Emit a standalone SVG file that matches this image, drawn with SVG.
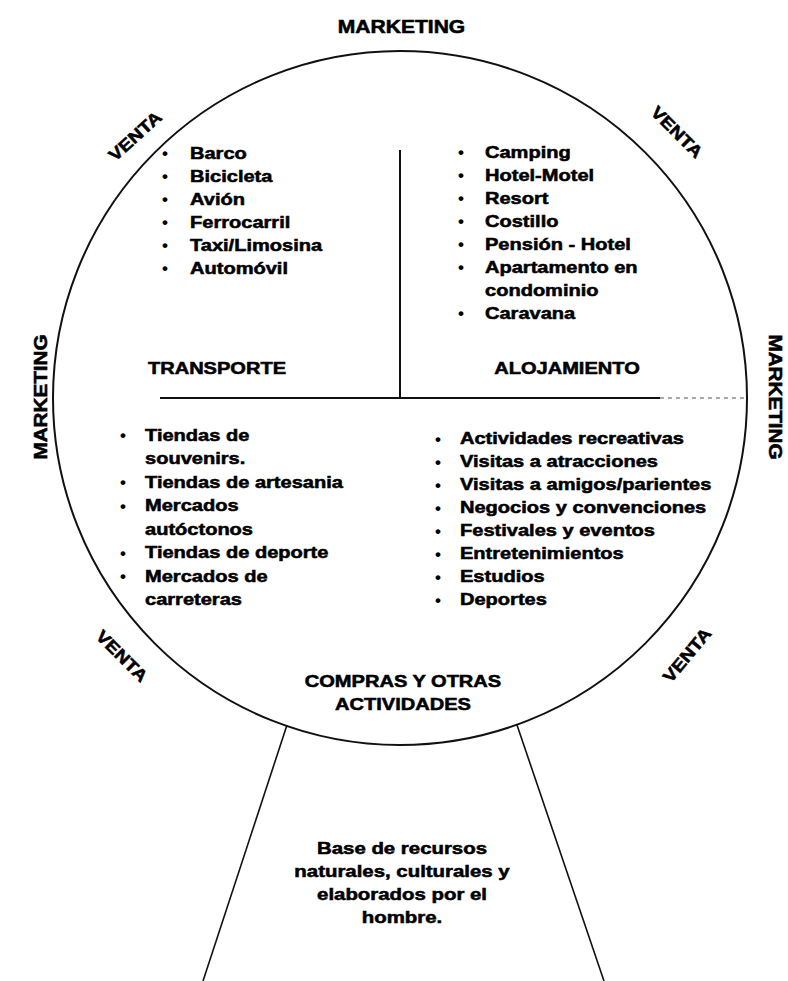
<svg xmlns="http://www.w3.org/2000/svg" width="788" height="981" viewBox="0 0 788 981">
<style>
.t{font-family:"Liberation Sans",Arial,Helvetica,sans-serif;font-weight:bold;font-size:17px;fill:#000;stroke:#000;stroke-width:0.55}
.h{font-size:18px}
.b{font-family:"Liberation Sans",Arial,sans-serif;font-weight:bold;font-size:17px;fill:#000;text-anchor:middle}
.ln{stroke:#111;fill:none;stroke-width:2}
.thin{stroke:#111;fill:none;stroke-width:1.6}
.dash{stroke:#555;fill:none;stroke-width:1.2;stroke-dasharray:4 4}
</style>
<rect width="788" height="981" fill="#fff"/>

<g id="connectors">
  <circle class="ln" cx="400" cy="398" r="347"/>
  <line class="ln" x1="400" y1="150" x2="400" y2="398"/>
  <line class="ln" x1="160" y1="398" x2="660" y2="398"/>
  <line class="dash" x1="660" y1="398" x2="746" y2="398"/>
  <line class="thin" x1="287" y1="725" x2="203" y2="981"/>
  <line class="thin" x1="517" y1="725" x2="604" y2="981"/>
</g>

<g id="marketing-labels">
  <g transform="translate(401.5,33) scale(1.17,1)"><text class="t h" text-anchor="middle" x="0" y="0">MARKETING</text></g>
  <g transform="translate(40,397) rotate(-90) scale(1.15,1)"><text class="t h" text-anchor="middle" x="0" y="6.5">MARKETING</text></g>
  <g transform="translate(776,397) rotate(90) scale(1.15,1)"><text class="t h" text-anchor="middle" x="0" y="6.5">MARKETING</text></g>
</g>

<g id="venta-labels">
  <g transform="translate(135,136) rotate(-42) scale(1.15,1)"><text class="t" text-anchor="middle" x="0" y="6">VENTA</text></g>
  <g transform="translate(677,132) rotate(45) scale(1.15,1)"><text class="t" text-anchor="middle" x="0" y="6">VENTA</text></g>
  <g transform="translate(122,656) rotate(45) scale(1.15,1)"><text class="t" text-anchor="middle" x="0" y="6">VENTA</text></g>
  <g transform="translate(687,655) rotate(-50) scale(1.15,1)"><text class="t" text-anchor="middle" x="0" y="6">VENTA</text></g>
</g>

<g id="transporte">
  <text class="b" x="165" y="159">•</text>
  <text class="b" x="165" y="182">•</text>
  <text class="b" x="165" y="205">•</text>
  <text class="b" x="165" y="228">•</text>
  <text class="b" x="165" y="251">•</text>
  <text class="b" x="165" y="274">•</text>
  <g transform="translate(190,0) scale(1.18,1)">
    <text class="t" x="0" y="159">Barco</text>
    <text class="t" x="0" y="182">Bicicleta</text>
    <text class="t" x="0" y="205">Avión</text>
    <text class="t" x="0" y="228">Ferrocarril</text>
    <text class="t" x="0" y="251">Taxi/Limosina</text>
    <text class="t" x="0" y="274">Automóvil</text>
  </g>
  <g transform="translate(217,374) scale(1.18,1)"><text class="t" text-anchor="middle" x="0" y="0">TRANSPORTE</text></g>
</g>

<g id="alojamiento">
  <text class="b" x="461" y="158">•</text>
  <text class="b" x="461" y="181">•</text>
  <text class="b" x="461" y="204">•</text>
  <text class="b" x="461" y="227">•</text>
  <text class="b" x="461" y="250">•</text>
  <text class="b" x="461" y="273">•</text>
  <text class="b" x="461" y="319">•</text>
  <g transform="translate(485,0) scale(1.18,1)">
    <text class="t" x="0" y="158">Camping</text>
    <text class="t" x="0" y="181">Hotel-Motel</text>
    <text class="t" x="0" y="204">Resort</text>
    <text class="t" x="0" y="227">Costillo</text>
    <text class="t" x="0" y="250">Pensión - Hotel</text>
    <text class="t" x="0" y="273">Apartamento en</text>
    <text class="t" x="0" y="296">condominio</text>
    <text class="t" x="0" y="319">Caravana</text>
  </g>
  <g transform="translate(567,374) scale(1.18,1)"><text class="t" text-anchor="middle" x="0" y="0">ALOJAMIENTO</text></g>
</g>

<g id="compras">
  <text class="b" x="123" y="441">•</text>
  <text class="b" x="123" y="488">•</text>
  <text class="b" x="123" y="511.5">•</text>
  <text class="b" x="123" y="558.5">•</text>
  <text class="b" x="123" y="582">•</text>
  <g transform="translate(145,0) scale(1.18,1)">
    <text class="t" x="0" y="441">Tiendas de</text>
    <text class="t" x="0" y="464.5">souvenirs.</text>
    <text class="t" x="0" y="488">Tiendas de artesania</text>
    <text class="t" x="0" y="511.5">Mercados</text>
    <text class="t" x="0" y="535">autóctonos</text>
    <text class="t" x="0" y="558.5">Tiendas de deporte</text>
    <text class="t" x="0" y="582">Mercados de</text>
    <text class="t" x="0" y="605.5">carreteras</text>
  </g>
</g>

<g id="actividades">
  <text class="b" x="438" y="444.5">•</text>
  <text class="b" x="438" y="467.5">•</text>
  <text class="b" x="438" y="490.5">•</text>
  <text class="b" x="438" y="513.5">•</text>
  <text class="b" x="438" y="536.5">•</text>
  <text class="b" x="438" y="559.5">•</text>
  <text class="b" x="438" y="582.5">•</text>
  <text class="b" x="438" y="605.5">•</text>
  <g transform="translate(460,0) scale(1.18,1)">
    <text class="t" x="0" y="444.5">Actividades recreativas</text>
    <text class="t" x="0" y="467.5">Visitas a atracciones</text>
    <text class="t" x="0" y="490.5">Visitas a amigos/parientes</text>
    <text class="t" x="0" y="513.5">Negocios y convenciones</text>
    <text class="t" x="0" y="536.5">Festivales y eventos</text>
    <text class="t" x="0" y="559.5">Entretenimientos</text>
    <text class="t" x="0" y="582.5">Estudios</text>
    <text class="t" x="0" y="605.5">Deportes</text>
  </g>
</g>

<g id="compras-titulo">
  <g transform="translate(403,0) scale(1.18,1)">
    <text class="t" text-anchor="middle" x="0" y="687">COMPRAS Y OTRAS</text>
    <text class="t" text-anchor="middle" x="0" y="710">ACTIVIDADES</text>
  </g>
</g>

<g id="base">
  <g transform="translate(402,0) scale(1.2,1)">
    <text class="t" text-anchor="middle" x="0" y="854">Base de recursos</text>
    <text class="t" text-anchor="middle" x="0" y="877">naturales, culturales y</text>
    <text class="t" text-anchor="middle" x="0" y="900">elaborados por el</text>
    <text class="t" text-anchor="middle" x="0" y="923">hombre.</text>
  </g>
</g>
</svg>
